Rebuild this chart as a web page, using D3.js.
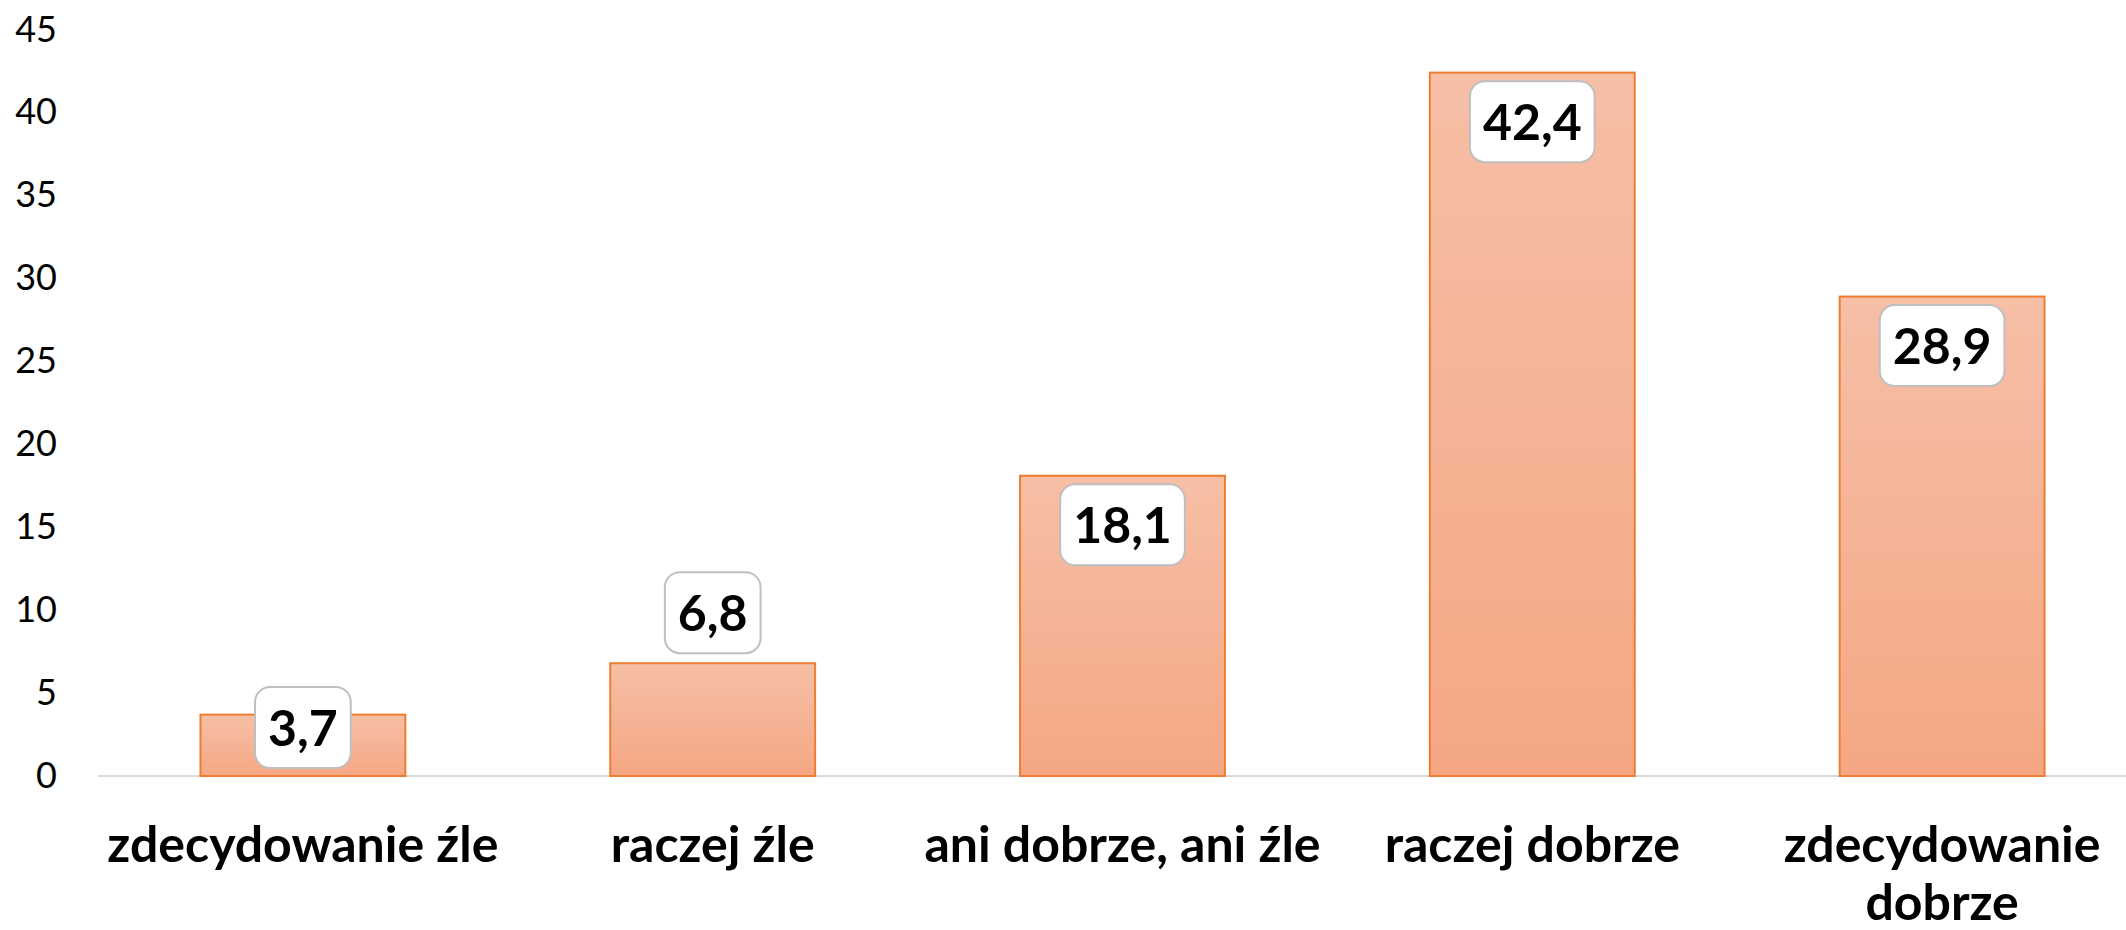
<!DOCTYPE html>
<html>
<head>
<meta charset="utf-8">
<script src="https://cdn.jsdelivr.net/npm/d3@7"></script>
<style>
  html, body { margin: 0; padding: 0; background: #fff; }
  svg { display: block; }
</style>
</head>
<body>
<div id="chart"></div>
<script>
// dane z wykresu
const categories = ["zdecydowanie źle", "raczej źle", "ani dobrze, ani źle", "raczej dobrze", "zdecydowanie dobrze"];
const values = [3.7, 6.8, 18.1, 42.4, 28.9];
const valueLabels = ["3,7", "6,8", "18,1", "42,4", "28,9"];
const yTicks = [0, 5, 10, 15, 20, 25, 30, 35, 40, 45];
// gdzie excel postawil etykiete
const labelPlacement = ["base", "outside", "inside", "inside", "inside"];

const width = 2126;
const height = 930;

const svg = d3.select('#chart').append('svg')
    .attr('width', width)
    .attr('height', height);

svg.append('rect')
    .attr('width', width)
    .attr('height', height)
    .attr('fill', '#fff');

const x = d3.scaleBand()
    .domain(categories)
    .range([98, 2147])
    .paddingInner(0.5)
    .paddingOuter(0.25);

const y = d3.scaleLinear()
    .domain([0, 45])
    .range([776, 29.5]);

const defs = svg.append('defs');
const grad = defs.append('linearGradient')
    .attr('id', 'barGrad')
    .attr('x1', 0).attr('y1', 0)
    .attr('x2', 0).attr('y2', 1);
grad.append('stop').attr('offset', '0%').attr('stop-color', '#f6bfa6');
grad.append('stop').attr('offset', '100%').attr('stop-color', '#f5a784');

// os Y
const yAxis = svg.append('g')
    .attr('transform', 'translate(98,0)')
    .call(d3.axisLeft(y).tickValues(yTicks).tickSize(0).tickPadding(41));
yAxis.select('.domain').remove();
yAxis.selectAll('text')
    .attr('fill', '#000')
    .style('font-family', 'Lato, sans-serif')
    .style('font-size', '36px');

// linia bazowa
svg.append('line')
    .attr('x1', 98).attr('x2', width)
    .attr('y1', y(0)).attr('y2', y(0))
    .attr('stroke', '#d9d9d9')
    .attr('stroke-width', 2);

// slupki
svg.selectAll('rect.bar')
    .data(values)
    .join('rect')
    .attr('class', 'bar')
    .attr('x', (d, i) => x(categories[i]))
    .attr('y', d => y(d))
    .attr('width', x.bandwidth())
    .attr('height', d => y(0) - y(d))
    .attr('fill', 'url(#barGrad)')
    .attr('stroke', '#ed7d31')
    .attr('stroke-width', 2);

// etykiety wartosci
const boxH = 81;
const lab = svg.selectAll('g.lab')
    .data(values)
    .join('g')
    .attr('class', 'lab');

lab.each(function (d, i) {
    const g = d3.select(this);
    const cx = x(categories[i]) + x.bandwidth() / 2;
    let top;
    if (labelPlacement[i] === 'inside') top = y(d) + 8.5;
    else if (labelPlacement[i] === 'outside') top = y(d) - 10 - boxH;
    else top = y(0) - 8 - boxH;

    const rect = g.append('rect');
    const t = g.append('text')
        .attr('x', cx)
        .attr('y', top + boxH / 2)
        .attr('dy', '0.36em')
        .attr('text-anchor', 'middle')
        .style('font-family', 'Lato, sans-serif')
        .style('font-weight', 'bold')
        .style('font-size', '50px')
        .attr('fill', '#000')
        .text(valueLabels[i]);
    const w = t.node().getComputedTextLength() + 26;
    rect.attr('x', cx - w / 2)
        .attr('y', top)
        .attr('width', w)
        .attr('height', boxH)
        .attr('rx', 15)
        .attr('fill', '#fff')
        .attr('stroke', '#bfbfbf')
        .attr('stroke-width', 2);
});

// etykiety kategorii (zawijane)
const catG = svg.append('g');
categories.forEach(function (c) {
    const cx = x(c) + x.bandwidth() / 2;
    const t = catG.append('text')
        .attr('text-anchor', 'middle')
        .style('font-family', 'Lato, sans-serif')
        .style('font-weight', 'bold')
        .style('font-size', '50px')
        .attr('fill', '#000');
    const words = c.split(' ');
    let lines = [];
    let line = [];
    const probe = t.append('tspan');
    words.forEach(function (wd) {
        line.push(wd);
        probe.text(line.join(' '));
        if (probe.node().getComputedTextLength() > x.step() && line.length > 1) {
            line.pop();
            lines.push(line.join(' '));
            line = [wd];
        }
    });
    lines.push(line.join(' '));
    probe.remove();
    lines.forEach(function (ln, k) {
        t.append('tspan')
            .attr('x', cx)
            .attr('y', 862 + k * 58)
            .text(ln);
    });
});
</script>
</body>
</html>
